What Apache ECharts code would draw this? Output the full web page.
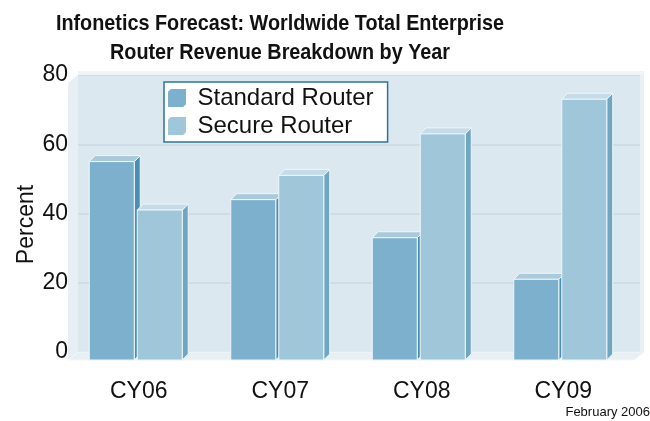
<!DOCTYPE html>
<html><head><meta charset="utf-8">
<script src="https://cdn.jsdelivr.net/npm/echarts@6/dist/echarts.min.js"></script>
<style>html,body{margin:0;padding:0;background:#fff}#c{width:650px;height:421px}</style>
</head><body><div id="c"></div>
<script>
const categories = ['CY06', 'CY07', 'CY08', 'CY09'];
const standardRouter = [55, 44, 33, 21];
const secureRouter = [41, 51, 63, 73];
const yMin = 0, yMax = 80, yInterval = 20;
const seriesNames = ['Standard Router', 'Secure Router'];
const titleText = 'Infonetics Forecast: Worldwide Total Enterprise\nRouter Revenue Breakdown by Year';

const palette = [
  { front: '#7db0cc', top: '#aacadb', side: '#4a8fb1' },
  { front: '#a0c6d9', top: '#c5dce8', side: '#6fa7c3' }
];
const SHIFT = -10, DROP = 8, DEPTH = 6;
const FONT = '"Liberation Sans", Arial, sans-serif';

function barRenderer(idx) {
  return function (params, api) {
    const cat = api.value(0), v = api.value(1);
    const pTop = api.coord([cat, v]);
    const pBase = api.coord([cat, 0]);
    const band = api.size([1, 0])[0];
    const w = band * 0.318, gap = 3;
    const c = pTop[0] + SHIFT;
    const x0 = idx === 0 ? c - (w + gap / 2 + DEPTH / 2) : c + gap / 2 - DEPTH / 2;
    const yT = pTop[1], yB = pBase[1] + DROP;
    const col = palette[idx];
    const edge = { stroke: '#eef6fa', lineWidth: 1 };
    return {
      type: 'group',
      children: [
        { type: 'polygon', shape: { points: [[x0 + w, yT], [x0 + w + DEPTH, yT - DEPTH], [x0 + w + DEPTH, yB - DEPTH], [x0 + w, yB]] },
          style: Object.assign({ fill: col.side }, edge) },
        { type: 'polygon', shape: { points: [[x0, yT], [x0 + DEPTH, yT - DEPTH], [x0 + w + DEPTH, yT - DEPTH], [x0 + w, yT]] },
          style: Object.assign({ fill: col.top }, edge) },
        { type: 'rect', shape: { x: x0, y: yT, width: w, height: yB - yT },
          style: Object.assign({ fill: col.front }, edge) }
      ]
    };
  };
}

function decorRenderer(params, api) {
  const cs = params.coordSys;
  const x = cs.x, y = cs.y, w = cs.width, h = cs.height;
  return {
    type: 'group',
    children: [
      { type: 'polygon', shape: { points: [[x + SHIFT, y + DROP], [x, y], [x, y + h], [x + SHIFT, y + h + DROP]] },
        style: { fill: '#e7eff4' } },
      { type: 'polygon', shape: { points: [[x + SHIFT, y + h + DROP], [x, y + h], [x + w, y + h], [x + w + SHIFT, y + h + DROP]] },
        style: { fill: '#e8f0f4', stroke: '#f3f8fa', lineWidth: 1 } },
      { type: 'rect', shape: { x: x + w - 4, y: y, width: 4, height: h },
        style: { fill: '#e9f1f5' } },
      { type: 'rect', shape: { x: x, y: y - 4, width: w, height: 4 },
        style: { fill: '#eef4f7' } }
    ]
  };
}

const chart = echarts.init(document.getElementById('c'));
chart.setOption({
  backgroundColor: '#ffffff',
  animation: false,
  legend: {
    data: seriesNames,
    orient: 'vertical', left: 164, top: 82,
    icon: 'path://M0,3 L3,0 L19,0 L19,16 L16,19 L0,19 Z',
    itemWidth: 19, itemHeight: 18, itemGap: 4,
    backgroundColor: '#ffffff', borderColor: '#2f7493', borderWidth: 1.5,
    padding: [4, 14, 4, 4],
    textStyle: { fontFamily: FONT, fontSize: 24, color: '#111', padding: [0, 0, 0, 6] }
  },
  grid: [
    { left: 78, right: 6, top: 75, bottom: 69, show: true, backgroundColor: '#dce8ef', borderWidth: 0 },
    { left: 68, right: 16, top: 83, bottom: 61 }
  ],
  xAxis: [
    { type: 'category', data: categories, gridIndex: 0, show: false },
    { type: 'category', data: categories, gridIndex: 1,
      axisLine: { show: false }, axisTick: { show: false },
      axisLabel: { fontFamily: FONT, fontSize: 23, color: '#111', margin: 20 } }
  ],
  yAxis: [
    { type: 'value', gridIndex: 0, min: yMin, max: yMax, interval: yInterval,
      name: 'Percent', nameLocation: 'middle', nameRotate: 90, nameGap: 40, nameMoveOverlap: false,
      nameTextStyle: { fontFamily: FONT, fontSize: 23, color: '#111', padding: [0, 22, 0, 0] },
      axisLine: { show: false }, axisTick: { show: false },
      axisLabel: { fontFamily: FONT, fontSize: 23, color: '#111', margin: 10 },
      splitLine: { lineStyle: { color: '#c8d8e2', width: 1.5 } } },
    { type: 'value', gridIndex: 1, min: yMin, max: yMax, interval: yInterval, show: false }
  ],
  graphic: [
    { type: 'text', x: 280, y: 9, scaleX: 0.9,
      style: { text: titleText, align: 'center', verticalAlign: 'top', fontFamily: FONT, fontWeight: 'bold', fontSize: 22, lineHeight: 29, fill: '#111' } },
    { type: 'text', right: 0, top: 406, style: { text: 'February 2006', fontFamily: FONT, fontSize: 13, fill: '#111' } }
  ],
  series: [
    { type: 'custom', name: 'decor', xAxisIndex: 0, yAxisIndex: 0, silent: true, z: 1,
      renderItem: decorRenderer, data: [[0, 0]] },
    { type: 'custom', name: seriesNames[0], xAxisIndex: 0, yAxisIndex: 0, z: 3,
      itemStyle: { color: palette[0].front },
      renderItem: barRenderer(0), encode: { x: 0, y: 1 },
      data: standardRouter.map((v, i) => [i, v]) },
    { type: 'custom', name: seriesNames[1], xAxisIndex: 0, yAxisIndex: 0, z: 3,
      itemStyle: { color: palette[1].front },
      renderItem: barRenderer(1), encode: { x: 0, y: 1 },
      data: secureRouter.map((v, i) => [i, v]) }
  ]
});
</script></body></html>
